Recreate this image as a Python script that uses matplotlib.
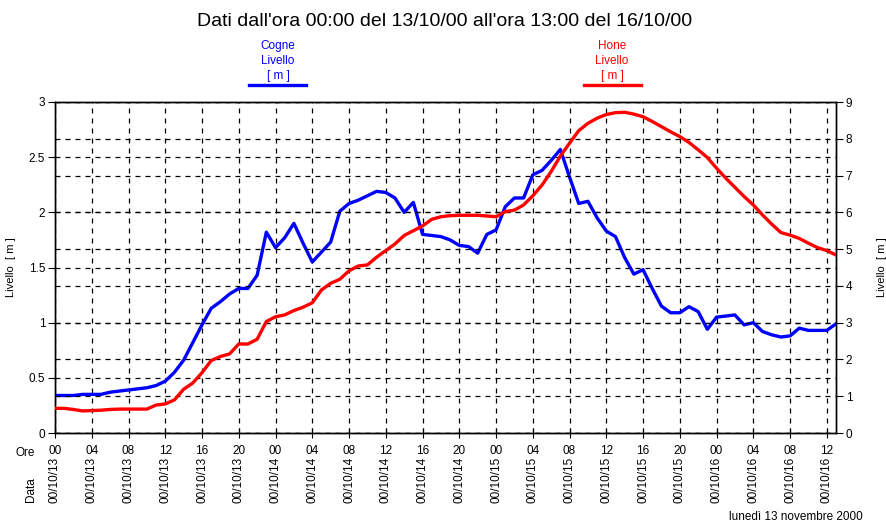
import matplotlib.pyplot as plt
import numpy as np

plt.rcParams.update({
    "font.family": ["Liberation Sans", "DejaVu Sans"],
    "font.size": 8,
})

# ---- data (hourly readings, hour 0 = 00:00 13/10/00) ----
hours = list(range(86))

cogne = [
    0.34, 0.34, 0.34, 0.35, 0.35, 0.35, 0.37, 0.38, 0.39, 0.40,
    0.41, 0.43, 0.47, 0.55, 0.66, 0.82, 0.98, 1.13, 1.19, 1.26,
    1.31, 1.31, 1.43, 1.82, 1.68, 1.77, 1.90, 1.72, 1.55, 1.64,
    1.73, 2.01, 2.08, 2.11, 2.15, 2.19, 2.18, 2.13, 2.00, 2.09,
    1.80, 1.79, 1.78, 1.75, 1.70, 1.69, 1.63, 1.80, 1.84, 2.05,
    2.13, 2.13, 2.34, 2.38, 2.47, 2.57, 2.32, 2.08, 2.10, 1.95,
    1.83, 1.78, 1.59, 1.44, 1.48, 1.31, 1.15, 1.09, 1.09, 1.145,
    1.10, 0.94, 1.05, 1.06, 1.07, 0.98, 1.00, 0.92, 0.89, 0.87,
    0.88, 0.95, 0.93, 0.93, 0.93, 0.99,
]

hone = [
    0.67, 0.67, 0.64, 0.60, 0.61, 0.62, 0.64, 0.65, 0.65, 0.65,
    0.65, 0.76, 0.79, 0.90, 1.19, 1.36, 1.64, 1.97, 2.08, 2.15,
    2.42, 2.42, 2.55, 3.03, 3.16, 3.21, 3.33, 3.42, 3.54, 3.89,
    4.07, 4.18, 4.41, 4.54, 4.57, 4.78, 4.96, 5.14, 5.37, 5.50,
    5.63, 5.81, 5.88, 5.91, 5.92, 5.92, 5.92, 5.90, 5.88, 6.02,
    6.06, 6.20, 6.45, 6.74, 7.11, 7.53, 7.88, 8.22, 8.42, 8.56,
    8.66, 8.71, 8.72, 8.67, 8.60, 8.47, 8.33, 8.19, 8.06, 7.90,
    7.70, 7.49, 7.20, 6.93, 6.68, 6.43, 6.20, 5.93, 5.68, 5.45,
    5.38, 5.29, 5.16, 5.04, 4.96, 4.84,
]

tick_hours = list(range(0, 85, 4))
hour_labels = ["00", "04", "08", "12", "16", "20"] * 3 + ["00", "04", "08", "12"]
date_labels = (["00/10/13"] * 6 + ["00/10/14"] * 6 + ["00/10/15"] * 6
               + ["00/10/16"] * 4)

left_ticks = [0, 0.5, 1, 1.5, 2, 2.5, 3]
left_labels = ["0", "0.5", "1", "1.5", "2", "2.5", "3"]
right_ticks = list(range(10))

BLUE = "#0000ff"
RED = "#ff0000"
DASH = (0, (4, 4))

fig = plt.figure(figsize=(8.87, 5.24), dpi=100)
ax = fig.add_axes([55 / 887, 1 - 433 / 524, (836 - 55) / 887, (433 - 102) / 524])
ax2 = ax.twinx()

ax.plot(hours, cogne, color=BLUE, linewidth=2.4, zorder=5)
ax2.plot(hours, hone, color=RED, linewidth=2.4, zorder=5)

ax.set_xlim(0, 85)
ax.set_ylim(0, 3)
ax2.set_ylim(0, 9)

ax.set_yticks(left_ticks)
ax.set_yticklabels(left_labels)
ax2.set_yticks(right_ticks)

ax.set_xticks(tick_hours)
ax.set_xticklabels([])

ax.grid(True, color="black", linestyle=DASH, linewidth=0.9)
ax2.grid(True, axis="y", color="black", linestyle=DASH, linewidth=0.9)
ax.set_axisbelow(True)

for a in (ax, ax2):
    for s in a.spines.values():
        s.set_linewidth(1.0)
ax.tick_params(axis="y", direction="out", length=5, labelsize=8.5, pad=2)
ax.tick_params(axis="x", direction="inout", length=7, labelsize=8.5)
ax2.tick_params(axis="y", direction="out", length=5, labelsize=8.5, pad=2)

ax.set_ylabel("Livello  [ m ]", fontsize=8, labelpad=9)
ax2.set_ylabel("Livello  [ m ]", fontsize=8, labelpad=18)

# x labels: hour then rotated date
for h, hl, dl in zip(tick_hours, hour_labels, date_labels):
    ax.annotate(hl, xy=(h, 0), xycoords=("data", "axes fraction"),
                xytext=(0, -18), textcoords="offset pixels",
                ha="center", va="center", fontsize=8.5)
    ax.annotate(dl, xy=(h, 0), xycoords=("data", "axes fraction"),
                xytext=(0, -24), textcoords="offset pixels",
                ha="center", va="top", rotation=90, fontsize=8.5)

fig.text(25 / 887, 1 - 453 / 524, "Ore", ha="center", va="center", fontsize=8.5)
fig.text(31 / 887, 1 - 490 / 524, "Data", ha="center", va="center",
         rotation=90, fontsize=8.5)

fig.suptitle("Dati dall'ora 00:00 del 13/10/00 all'ora 13:00 del 16/10/00",
             x=445 / 887, y=1 - 22 / 524, va="center", fontsize=14)

# legend labels above plot
fig.text(278 / 887, 1 - 61 / 524, "Cogne\nLivello\n[ m ]", color=BLUE,
         ha="center", va="center", fontsize=8.5, linespacing=1.35)
fig.add_artist(plt.Line2D([249 / 887, 306 / 887], [1 - 85 / 524] * 2,
                          color=BLUE, linewidth=2.4))
fig.text(612 / 887, 1 - 61 / 524, "Hone\nLivello\n[ m ]", color=RED,
         ha="center", va="center", fontsize=8.5, linespacing=1.35)
fig.add_artist(plt.Line2D([584 / 887, 641 / 887], [1 - 85 / 524] * 2,
                          color=RED, linewidth=2.4))

fig.text(863 / 887, 1 - 517 / 524, "lunedì 13 novembre 2000",
         ha="right", va="center", fontsize=8.5)

fig.savefig("out.png", dpi=100)
